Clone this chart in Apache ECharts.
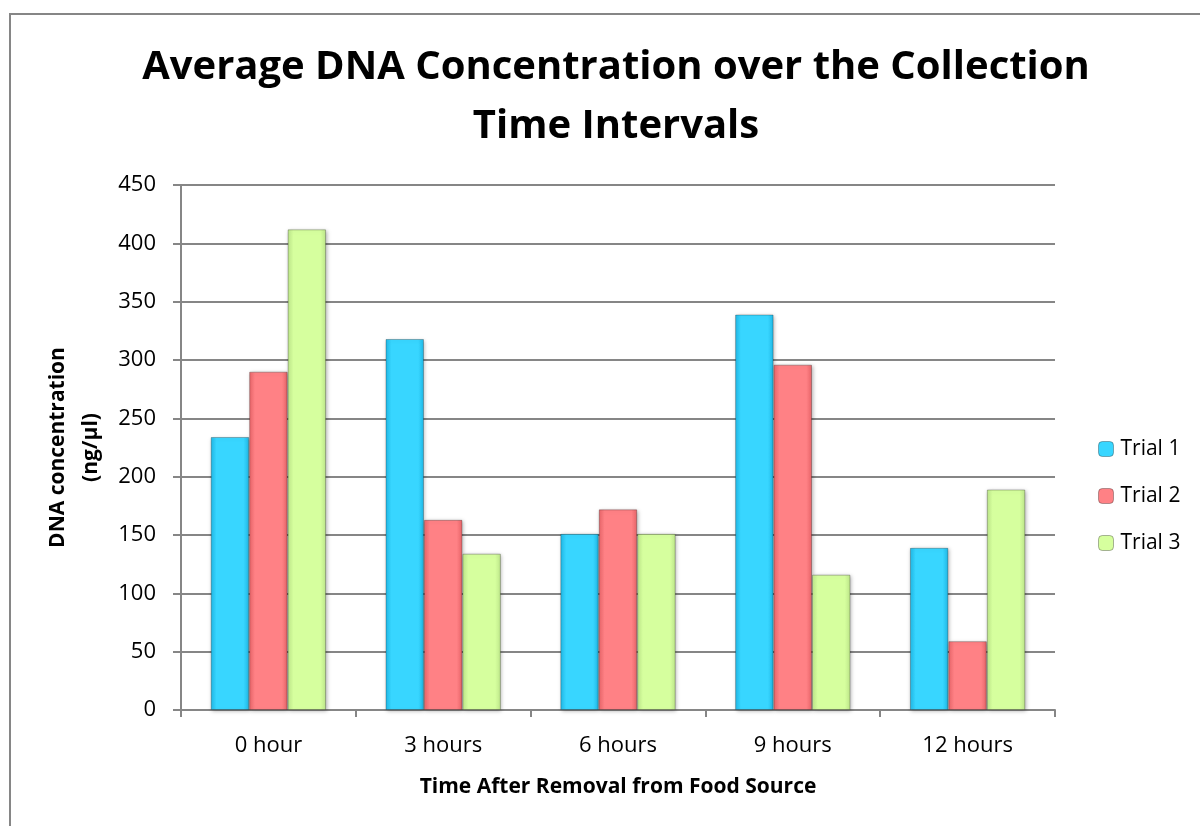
<!DOCTYPE html>
<html>
<head>
<meta charset="utf-8">
<script src="https://cdn.jsdelivr.net/npm/echarts@6/dist/echarts.min.js"></script>
<style>
  html, body { margin: 0; padding: 0; background: #fff; }
  #chart { width: 1200px; height: 826px; }
</style>
</head>
<body>
<div id="chart"></div>
<script>
var categories = ['0 hour', '3 hours', '6 hours', '9 hours', '12 hours']
var trial1 = [234, 318, 151, 339, 139]
var trial2 = [290, 163, 172, 296, 59]
var trial3 = [412, 134, 151, 116, 189]
var seriesNames = ['Trial 1', 'Trial 2', 'Trial 3']
var seriesColors = [
  ['#1fb8e6', '#38d6ff', '#1fb8e6'],
  ['#e86468', '#ff8185', '#e86468'],
  ['#bde68a', '#d6ff9e', '#bde68a']
]

function barColor(c) {
  return new echarts.graphic.LinearGradient(0, 0, 1, 0, [
    { offset: 0, color: c[0] },
    { offset: 0.15, color: c[1] },
    { offset: 0.85, color: c[1] },
    { offset: 1, color: c[2] }
  ])
}

var chart = echarts.init(document.getElementById('chart'))
var font = 'Open Sans, Lato, sans-serif'

var series = [trial1, trial2, trial3].map(function (d, i) {
  return {
    name: seriesNames[i],
    type: 'bar',
    data: d,
    barGap: 0,
    barCategoryGap: '34%',
    itemStyle: {
      color: barColor(seriesColors[i]),
      borderColor: 'rgba(0,0,0,0.25)',
      borderWidth: 1,
      shadowColor: 'rgba(0,0,0,0.3)',
      shadowBlur: 4,
      shadowOffsetX: 1,
      shadowOffsetY: 1
    }
  }
})

chart.setOption({
  animation: false,
  title: {
    text: 'Average DNA Concentration over the Collection\nTime Intervals',
    left: 611,
    textAlign: 'center',
    top: 33,
    textStyle: {
      fontFamily: font,
      fontSize: 40,
      fontWeight: 'bold',
      color: '#000',
      lineHeight: 59
    }
  },
  graphic: [{
    type: 'rect',
    shape: { x: 10, y: 14, width: 1200, height: 830 },
    style: { fill: 'none', stroke: '#868686', lineWidth: 2 },
    silent: true
  }],
  legend: {
    orient: 'vertical',
    left: 1093,
    top: 433,
    itemWidth: 15,
    itemHeight: 15,
    itemGap: 25,
    data: seriesNames.map(function (n, i) {
      return { name: n, itemStyle: { color: seriesColors[i][1], borderColor: 'rgba(0,0,0,0.3)', borderWidth: 1, shadowBlur: 0 } }
    }),
    textStyle: { fontFamily: font, fontSize: 21, lineHeight: 22, color: '#000', padding: [0, 0, 0, 2] }
  },
  grid: { left: 181, right: 145, top: 185, bottom: 116 },
  xAxis: {
    type: 'category',
    data: categories,
    name: 'Time After Removal from Food Source',
    nameLocation: 'middle',
    nameGap: 67,
    nameTextStyle: { fontFamily: font, fontSize: 21, fontWeight: 'bold', color: '#000' },
    axisLine: { lineStyle: { color: '#868686', width: 2 } },
    axisTick: { show: true, length: 7, lineStyle: { color: '#868686', width: 2 } },
    axisLabel: { fontFamily: font, fontSize: 22, color: '#000', margin: 25 }
  },
  yAxis: {
    type: 'value',
    min: 0,
    max: 450,
    interval: 50,
    name: 'DNA concentration\n(ng/µl)',
    nameLocation: 'middle',
    nameGap: 70,
    nameTextStyle: { fontFamily: font, fontSize: 21, fontWeight: 'bold', color: '#000', lineHeight: 33 },
    axisLine: { show: true, lineStyle: { color: '#868686', width: 2 } },
    axisTick: { show: true, length: 8, lineStyle: { color: '#868686', width: 2 } },
    splitLine: { lineStyle: { color: '#868686', width: 2 } },
    axisLabel: { fontFamily: font, fontSize: 22, color: '#000', margin: 25 }
  },
  series: series
})
</script>
</body>
</html>
